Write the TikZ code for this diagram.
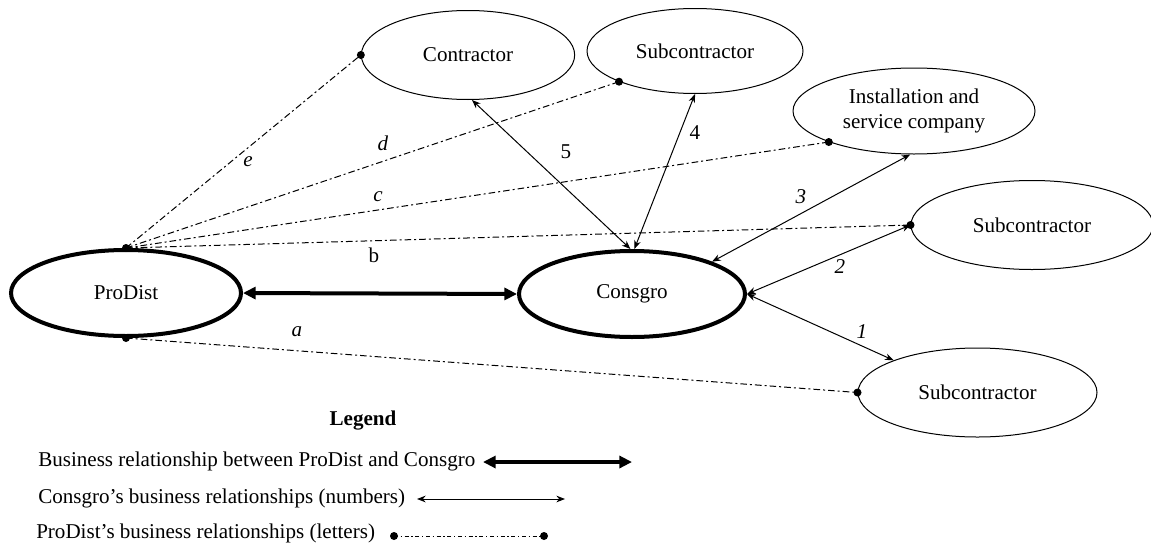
\documentclass[tikz,border=0pt]{standalone}
\usepackage{fontspec}
\setmainfont{Liberation Serif}
\usetikzlibrary{shapes.geometric,arrows.meta}
\begin{document}
\begin{tikzpicture}[x=0.75pt,y=-0.75pt,
  font=\fontsize{15.8}{18.5}\selectfont,
  ent/.style={ellipse,draw,line width=0.75pt,inner sep=0pt},
  mainent/.style={ellipse,draw,line width=3pt,inner sep=0pt},
  rel/.style={line width=0.75pt,{Stealth[length=6.5pt,width=5pt]}-{Stealth[length=6.5pt,width=5pt]}},
  pdrel/.style={line width=0.75pt,dash pattern=on 5pt off 2.25pt on 1.5pt off 2.25pt},
  legpd/.style={line width=0.6pt,dash pattern=on 3pt off 2pt on 1pt off 2pt},
  bigrel/.style={line width=3pt,{Triangle[length=9.5pt,width=9pt]}-{Triangle[length=9.5pt,width=9pt]}},
  lbl/.style={inner sep=1pt},
  dotn/.style={circle,fill,inner sep=0pt,minimum size=6pt}]
\useasboundingbox (0,0) rectangle (1151,546);
% entities
\node[mainent,minimum width=172.5pt,minimum height=64.5pt] (pd) at (126,293) {ProDist};
\node[mainent,minimum width=169.5pt,minimum height=64.5pt] (cg) at (632,294) {Consgro};
\node[ent,minimum width=160pt,minimum height=66.75pt] (ct) at (468,55) {Contractor};
\node[ent,minimum width=162pt,minimum height=63.75pt] (sc1) at (695,51) {Subcontractor};
\node[ent,minimum width=181.5pt,minimum height=64.5pt,align=center] (inst) at (914,111) {Installation and\\service company};
\node[ent,minimum width=181.5pt,minimum height=66.75pt] (sc2) at (1032,225) {Subcontractor};
\node[ent,minimum width=179.25pt,minimum height=66.75pt] (sc3) at (977.5,392.5) {Subcontractor};
% main relationship
\draw[bigrel] (pd.east) -- (cg.west);
% Consgro relationships
\draw[rel] (ct.-85) -- (cg.92);
\draw[rel] (sc1.south) -- (cg.87);
\draw[rel] (inst.-95) -- (cg.22.7);
\draw[rel] (sc2.west) -- (cg.east);
\draw[rel] (cg.east) -- (sc3.159.6);
% dots
\node[dotn] (dpt) at (pd.north) {};
\node[dotn] (dpb) at (pd.south) {};
\node[dotn] (dct) at (ct.west) {};
\node[dotn] (dsc1) at (sc1.202) {};
\node[dotn] (dinst) at (inst.200) {};
\node[dotn] (dsc2) at (sc2.west) {};
\node[dotn] (dsc3) at (sc3.west) {};
% ProDist relationships
\draw[pdrel] (dpt.center) -- (dct.center);
\draw[pdrel] (dpt.center) -- (dsc1.center);
\draw[pdrel] (dpt.center) -- (dinst.center);
\draw[pdrel] (dpt.center) -- (dsc2.center);
\draw[pdrel] (dpb.center) -- (dsc3.center);
% labels
\node[lbl] (le) at (248,162) {\textit{e}};
\node[lbl] (ld) at (383,143) {\textit{d}};
\node[lbl] (lc) at (378,197) {\textit{c}};
\node[lbl] (lb) at (374,255) {b};
\node[lbl] (la) at (297,332) {\textit{a}};
\node[lbl] (l5) at (566,152) {5};
\node[lbl] (l4) at (695,133) {4};
\node[lbl] (l3) at (801,197) {\textit{3}};
\node[lbl] (l2) at (840,267) {\textit{2}};
\node[lbl] (l1) at (862,332) {\textit{1}};
% legend
\node (leg) at (363,421) {\textbf{Legend}};
\node[anchor=west,inner sep=0pt] (t1) at (38,461) {Business relationship between ProDist and Consgro};
\node[anchor=west,inner sep=0pt] (t2) at (38,498) {Consgro’s business relationships (numbers)};
\node[anchor=west,inner sep=0pt] (t3) at (36,533) {ProDist’s business relationships (letters)};
\coordinate (l1a) at (483,462); \coordinate (l1b) at (632,462);
\coordinate (l2a) at (417,499); \coordinate (l2b) at (565,499);
\node[dotn] (l3a) at (394,536) {};
\node[dotn] (l3b) at (544,536) {};
\draw[bigrel] (l1a) -- (l1b);
\draw[rel] (l2a) -- (l2b);
\draw[legpd] (l3a.center) -- (l3b.center);
\end{tikzpicture}
\end{document}
